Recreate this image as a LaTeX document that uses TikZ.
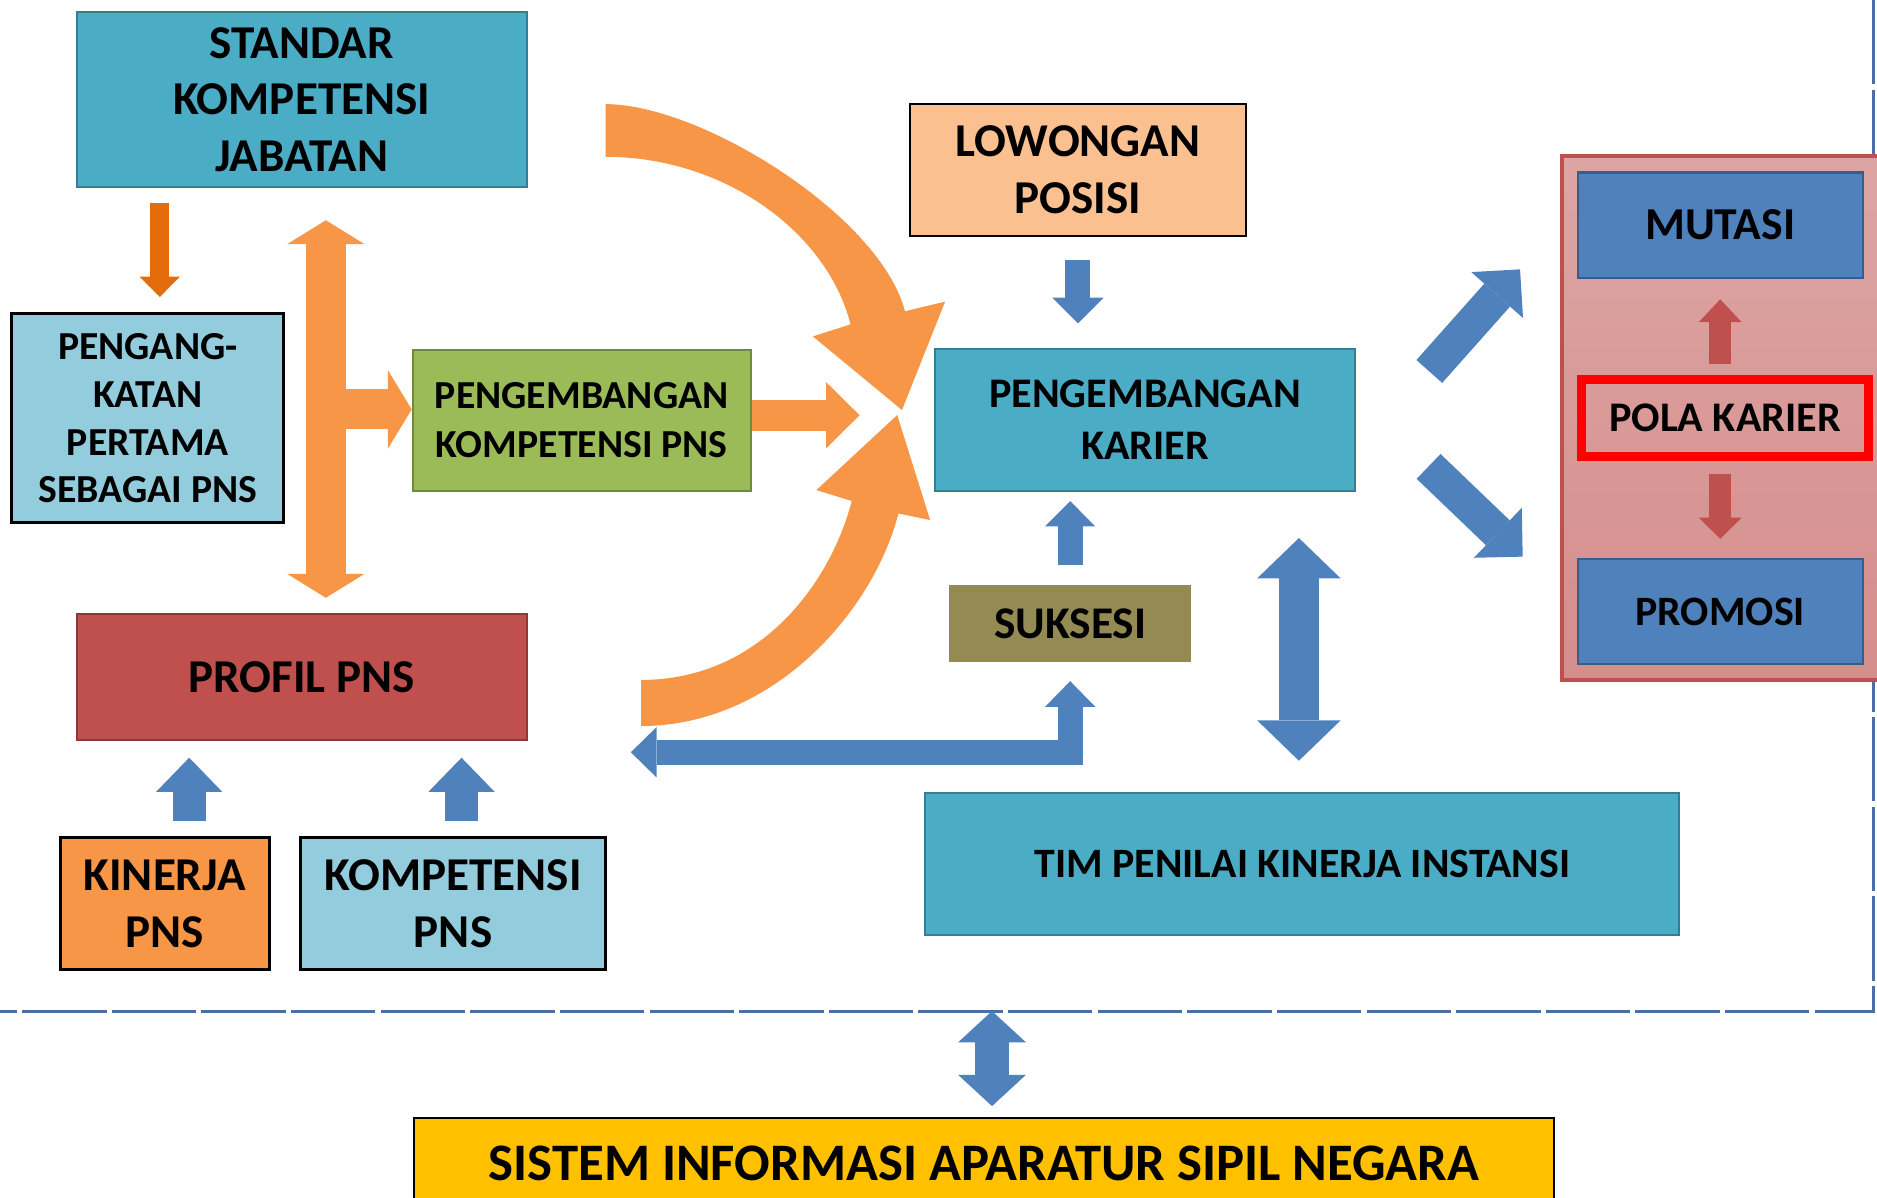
\documentclass[tikz,border=0pt]{standalone}
\usepackage{fontspec}
\setmainfont{Carlito}
\usepackage{tikz}
\usetikzlibrary{arrows.meta}
\definecolor{teal1}{HTML}{4BACC6}
\definecolor{tealgaris}{HTML}{357D91}
\definecolor{birumuda}{HTML}{93CDDD}
\definecolor{hijau}{HTML}{9BBB59}
\definecolor{hijaugaris}{HTML}{71893F}
\definecolor{merah}{HTML}{C0504D}
\definecolor{merahgaris}{HTML}{8C3836}
\definecolor{oranye}{HTML}{F79646}
\definecolor{oranyetua}{HTML}{E46C0A}
\definecolor{peach}{HTML}{FAC090}
\definecolor{zaitun}{HTML}{948A54}
\definecolor{biru}{HTML}{4F81BD}
\definecolor{birugaris}{HTML}{385D8A}
\definecolor{pinkatas}{HTML}{DCA5A4}
\definecolor{pinkbawah}{HTML}{D58E8C}
\definecolor{kuning}{HTML}{FFC000}
\definecolor{garisbingkai}{HTML}{4A6FA5}
\tikzstyle{kotak}=[rectangle,align=center,inner sep=0pt]
\tikzstyle{bingkai}=[draw=garisbingkai,line width=0.7pt,dash pattern=on 24pt off 1.5pt]
\tikzset{
  panah/.style n args={3}{line width=#1,-{Triangle[width=#2,length=#3,line width=0pt]}},
  panahdua/.style n args={3}{line width=#1,{Triangle[width=#2,length=#3,line width=0pt]}-{Triangle[width=#2,length=#3,line width=0pt]}},
}
\newcommand{\huruf}[2]{\fontsize{#1}{#2}\selectfont\bfseries}
\newcommand{\tealnode}{\node[kotak,fill=teal1,draw=tealgaris,line width=0.6pt]}
\newcommand{\hitamnode}{\node[kotak,draw=black,line width=0.8pt]}
\newcommand{\birunode}{\node[kotak,fill=biru,draw=birugaris,line width=0.6pt]}

\begin{document}
\begin{tikzpicture}[x=0.1197mm,y=-0.1197mm]
      \useasboundingbox (0,0) rectangle (1568,1000);
      \draw[bingkai] (1565,0) -- (1565,845) -- (0,845); % bingkai
      \node[kotak,top color=pinkatas,bottom color=pinkbawah,draw=merah,line width=1pt,
            minimum width=32mm,minimum height=52.4mm] (latar) at (1438.5,349) {};
      \tealnode[minimum width=45mm,minimum height=17.5mm,font=\huruf{13.4}{16.1}] (skj) at (252,83) {STANDAR\\KOMPETENSI\\JABATAN};
      \hitamnode[fill=birumuda,minimum width=27.2mm,minimum height=20.9mm,font=\huruf{11.3}{13.6}] (angkat) at (123.5,349.5) {PENGANG-\\KATAN\\PERTAMA\\SEBAGAI PNS};
      \node[kotak,fill=hijau,draw=hijaugaris,line width=0.6pt,minimum width=33.8mm,minimum height=14.1mm,font=\huruf{11.3}{13.9}] (kompeten) at (486,351) {PENGEMBANGAN\\KOMPETENSI PNS};
      \node[kotak,fill=merah,draw=merahgaris,line width=0.6pt,minimum width=45mm,minimum height=12.6mm,font=\huruf{13.4}{16.1}] (profil) at (252,565.5) {PROFIL PNS};
      \hitamnode[fill=oranye,minimum width=20.9mm,minimum height=13.2mm,font=\huruf{13.4}{16.3}] (kinerja) at (137.5,755) {KINERJA\\PNS};
      \hitamnode[fill=birumuda,minimum width=30.5mm,minimum height=13.2mm,font=\huruf{13.4}{16.3}] (kompns) at (378.5,755) {KOMPETENSI\\PNS};
      \hitamnode[fill=peach,minimum width=33.6mm,minimum height=13.2mm,font=\huruf{13.4}{16.3}] (lowongan) at (900.5,142) {LOWONGAN\\POSISI};
      \tealnode[minimum width=42mm,minimum height=14.2mm,font=\huruf{12}{14.6}] (karier) at (956.5,350.5) {PENGEMBANGAN\\KARIER};
      \node[kotak,fill=zaitun,minimum width=24.2mm,minimum height=7.7mm,font=\huruf{12.9}{15}] (suksesi) at (894,521) {SUKSESI};
      \tealnode[minimum width=75.4mm,minimum height=14.2mm,font=\huruf{11.9}{14}] (tim) at (1088,721.5) {TIM PENILAI KINERJA INSTANSI};
      \birunode[minimum width=28.5mm,minimum height=10.5mm,font=\huruf{13}{15}] (mutasi) at (1437,188) {MUTASI};
      \node[kotak,draw=red,line width=2.7pt,minimum width=28.7mm,minimum height=7.7mm,font=\huruf{12}{14}] (pola) at (1441,349) {POLA KARIER};
      \birunode[minimum width=28.5mm,minimum height=10.5mm,font=\huruf{11.9}{14}] (promosi) at (1437,511) {PROMOSI};
      \hitamnode[fill=kuning,minimum width=114mm,minimum height=9.1mm,font=\huruf{15}{18}] (sistem) at (822,972) {SISTEM INFORMASI APARATUR SIPIL NEGARA};
      \coordinate (batang) at (272.2,342);
      \coordinate (kiri) at (527,628.4);
      \coordinate (atas1) at (1194,310.3);
      \coordinate (atas2) at (1269.8,225);
      \coordinate (bawah1) at (1193.4,389.6);
      \coordinate (bawah2) at (1272,465);
      \coordinate (sia) at (828.7,844.6);
      % panah oranye
      \draw[oranyetua,panah={5.4pt}{11.5pt}{5.8pt},shorten <=4.2pt,shorten >=4.4pt] ([xshift=3.4pt]angkat.north |- skj.south) -- ([xshift=3.4pt]angkat.north);
      \draw[oranye,panahdua={11.4pt}{22pt}{6.8pt},shorten <=9.2pt,shorten >=4.3pt] (batang |- skj.south) -- (batang |- profil.north);
      \draw[oranye,panah={11.4pt}{22.4pt}{6.8pt}] (batang) -- (batang -| kompeten.west);
      \draw[oranye,panah={8.8pt}{18.8pt}{9.5pt}] ([yshift=1.4pt]kompeten.east) -- ++(90,0);
      \fill[oranye] (506,87) .. controls (586,87) and (735.5,180.5) .. (756,260) -- (789.5,252) -- (753.5,342.5)
            -- (679,281) -- (710.5,271) .. controls (691.5,194.9) and (606,131) .. (506,131) -- cycle;
      \fill[oranye] (535.5,606.5) .. controls (645.5,606.5) and (729.3,511.5) .. (750.5,429) -- (777,434.4) -- (749.5,346.7)
            -- (682,409.4) -- (711.5,418.5) .. controls (694,486.4) and (635.5,568) .. (535.5,568) -- cycle;
      % panah biru
      \draw[biru,panah={7.1pt}{14.6pt}{7.3pt},shorten <=6.4pt,shorten >=6.9pt] (lowongan.south) -- (lowongan.south |- karier.north);
      \draw[biru,panah={7.1pt}{14.3pt}{7.2pt},shorten <=5.6pt,shorten >=2.7pt] (suksesi.north) -- (suksesi.north |- karier.south);
      \draw[biru,panahdua={7.2pt}{14.3pt}{7.3pt},shorten >=5.2pt] (kiri) -| (suksesi.south);
      \draw[biru,panahdua={11.5pt}{23.8pt}{11.5pt},shorten <=13.2pt,shorten >=8.8pt] ([xshift=-1pt]tim.north |- karier.south) -- ([xshift=-1pt]tim.north);
      \draw[biru,panah={9.5pt}{18.8pt}{9.7pt},shorten <=4.4pt,shorten >=4.75pt] ([xshift=7pt]kinerja.north) -- ([xshift=7pt]kinerja.north |- profil.south);
      \draw[biru,panah={9.5pt}{18.8pt}{9.7pt},shorten <=4.4pt,shorten >=4.75pt] ([xshift=2.4pt]kompns.north) -- ([xshift=2.4pt]kompns.north |- profil.south);
      \draw[biru,panah={9.8pt}{19.7pt}{9.8pt}] (atas1) -- (atas2);
      \draw[biru,panah={9.8pt}{19.7pt}{9.8pt}] (bawah1) -- (bawah2);
      \draw[biru,panahdua={9.7pt}{19.3pt}{8.9pt},shorten >=3pt] (sia) -- (sia |- sistem.north);
      % panah merah
      \draw[merah,panah={6.1pt}{12.2pt}{6.5pt},shorten <=2.9pt,shorten >=5.9pt] (mutasi.south |- pola.north) -- (mutasi.south);
      \draw[merah,panah={6.1pt}{12.2pt}{6pt},shorten <=3.7pt,shorten >=5.5pt] (mutasi.south |- pola.south) -- (mutasi.south |- promosi.north);
\end{tikzpicture}
\end{document}
